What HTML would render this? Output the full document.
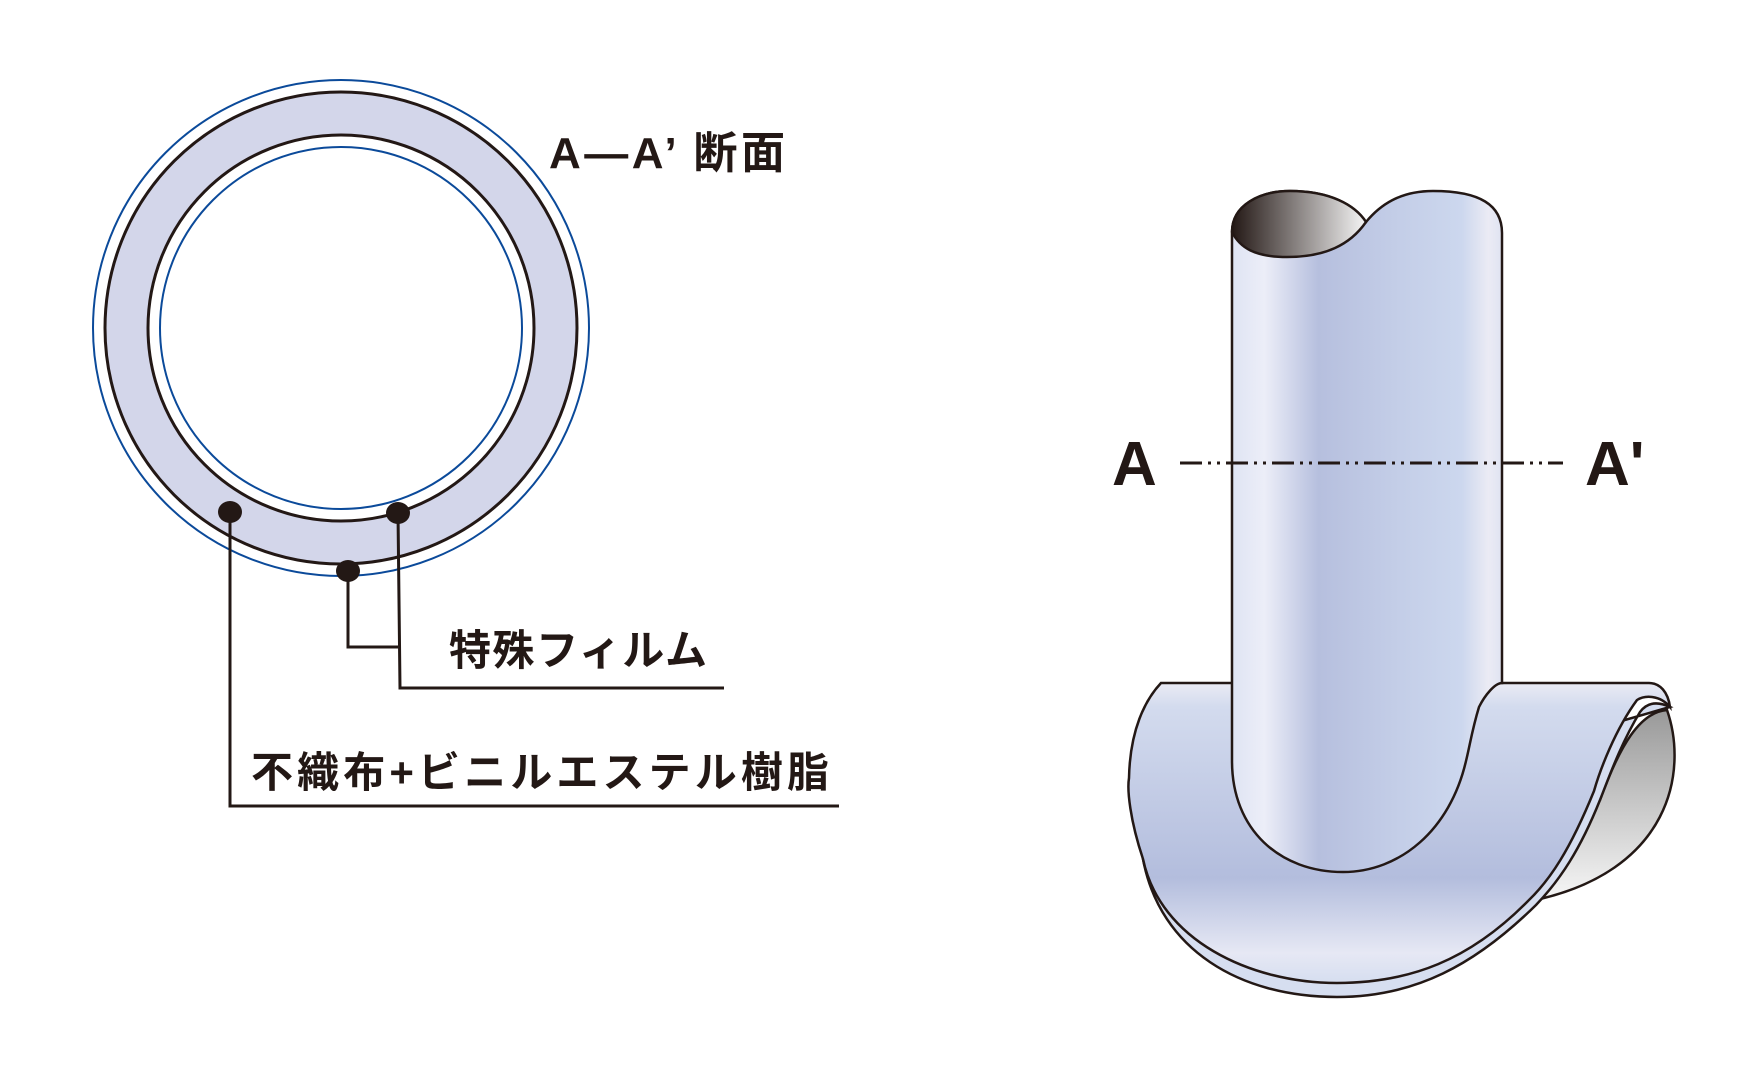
<!DOCTYPE html>
<html><head><meta charset="utf-8"><style>
html,body{margin:0;padding:0;background:#fff}
svg{display:block}
text{font-family:"Liberation Sans","Noto Sans CJK JP",sans-serif;font-weight:bold;fill:#231815}
</style></head><body>
<svg width="1754" height="1076" viewBox="0 0 1754 1076" xmlns="http://www.w3.org/2000/svg">
<defs>
<linearGradient id="pipe" x1="0" x2="1" y1="0" y2="0">
<stop offset="0" stop-color="#dfe4f3"/><stop offset="0.12" stop-color="#eceef8"/>
<stop offset="0.32" stop-color="#b6bfde"/><stop offset="0.6" stop-color="#c3cde7"/>
<stop offset="0.85" stop-color="#ccd7ee"/><stop offset="0.95" stop-color="#ebebf4"/><stop offset="1" stop-color="#dfe3f2"/>
</linearGradient>
<linearGradient id="flange" x1="0" x2="0" y1="0" y2="1">
<stop offset="0" stop-color="#ebebf4"/><stop offset="0.08" stop-color="#d3dbee"/>
<stop offset="0.65" stop-color="#b3bddd"/><stop offset="0.9" stop-color="#e6e8f4"/><stop offset="1" stop-color="#d6def0"/>
</linearGradient>
<linearGradient id="dark" x1="0" x2="1" y1="0" y2="0">
<stop offset="0" stop-color="#231815"/><stop offset="1" stop-color="#f5f5f5"/>
</linearGradient>
<linearGradient id="gray" x1="0" x2="0" y1="0" y2="1">
<stop offset="0" stop-color="#999"/><stop offset="1" stop-color="#f7f7f7"/>
</linearGradient>
</defs>

<!-- cross-section -->
<circle cx="341" cy="328" r="248" fill="#fff" stroke="#0b4a9a" stroke-width="2"/>
<circle cx="341" cy="328" r="236" fill="#d3d6ea" stroke="#231815" stroke-width="3"/>
<circle cx="341" cy="328" r="193" fill="#fff" stroke="#231815" stroke-width="3"/>
<circle cx="341" cy="328" r="181" fill="#fff" stroke="#0b4a9a" stroke-width="2"/>
<g stroke="#231815" stroke-width="3" fill="none">
<polyline points="230,512 230,806 839,806"/>
<polyline points="398,513 400,688 724,688"/>
<polyline points="348,571 348,647 398,647"/>
</g>
<g fill="#231815">
<ellipse cx="230" cy="512" rx="12" ry="11"/>
<ellipse cx="398" cy="513" rx="12" ry="11"/>
<ellipse cx="348" cy="571" rx="12" ry="11"/>
</g>
<text x="549" y="168" font-size="44" textLength="236">A—A’ 断面</text>
<text x="449" y="665" font-size="42" textLength="258">特殊フィルム</text>
<text x="251" y="787" font-size="42" textLength="578">不織布+ビニルエステル樹脂</text>

<!-- gray interior -->
<path d="M1667,710 C1688,770 1672,872 1531,901 L1600,800 C1620,745 1640,712 1667,710 Z" fill="url(#gray)" stroke="#231815" stroke-width="2.5"/>
<!-- flange back layer -->
<path d="M1670,707 C1655,700 1646,704 1640,712 C1620,745 1608,780 1600,800 C1580,850 1560,880 1536,905 C1475,965 1415,997 1337,997 C1240,997 1160,950 1143,859 Z" fill="#d6def0" stroke="#231815" stroke-width="2.5"/>
<!-- flange front -->
<path d="M1161,683 L1649,683 C1660,683 1668,692 1670,707 C1660,695 1645,695 1637,700 C1615,730 1600,770 1594,791 C1570,850 1550,880 1528,901 C1470,960 1410,983 1337,983 C1250,983 1160,940 1143,859 C1130,820 1127,790 1129,778 C1130,730 1145,700 1161,683 Z" fill="url(#flange)" stroke="#231815" stroke-width="2.5"/>
<!-- pipe -->
<path d="M1232,232 C1232,205 1260,191 1290,191 C1330,191 1355,205 1366,222 C1380,205 1400,191 1433,191 C1480,191 1502,205 1502,233 L1502,683 C1495,683 1485,695 1479,707 C1472,730 1470,745 1466,761 C1450,830 1400,872 1343,872 C1280,872 1232,830 1232,761 Z" fill="url(#pipe)" stroke="#231815" stroke-width="2.5"/>
<path d="M1232,232 C1232,205 1260,191 1290,191 C1330,191 1355,205 1366,222 C1350,245 1325,257 1287,257 C1255,257 1240,248 1232,232 Z" fill="url(#dark)" stroke="#231815" stroke-width="2.5"/>

<!-- section line -->
<line x1="1180" y1="463" x2="1563" y2="463" stroke="#231815" stroke-width="3" stroke-dasharray="22,6,3,6,3,6"/>
<text x="1112" y="485" font-size="62">A</text>
<text x="1585" y="485" font-size="62">A'</text>
</svg>
</body></html>
